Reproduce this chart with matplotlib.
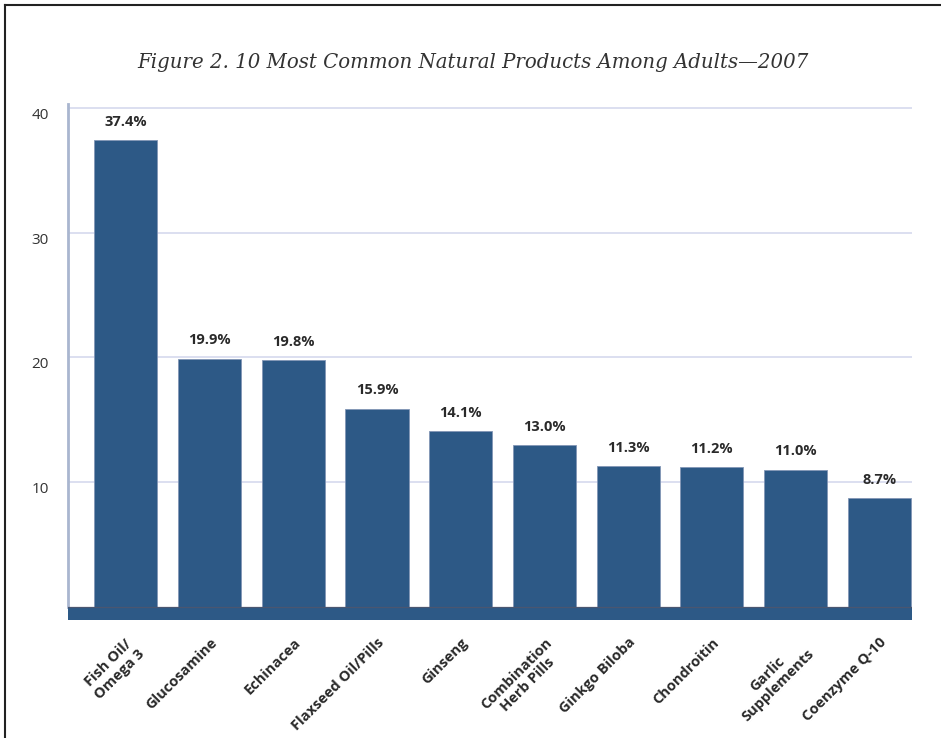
import matplotlib
matplotlib.use("Agg")
import matplotlib.pyplot as plt
from matplotlib.lines import Line2D

categories = ["Fish Oil/\nOmega 3", "Glucosamine", "Echinacea", "Flaxseed Oil/Pills",
              "Ginseng", "Combination\nHerb Pills", "Ginkgo Biloba", "Chondroitin",
              "Garlic\nSupplements", "Coenzyme Q-10"]
values = [37.4, 19.9, 19.8, 15.9, 14.1, 13.0, 11.3, 11.2, 11.0, 8.7]
value_labels = ["37.4%", "19.9%", "19.8%", "15.9%", "14.1%", "13.0%", "11.3%", "11.2%", "11.0%", "8.7%"]
yticks = [10, 20, 30, 40]
title = "Figure 2. 10 Most Common Natural Products Among Adults\u20142007"

bar_color = "#2d5986"
text_color = "#2a2a2a"

fig = plt.figure(figsize=(9.41, 7.38), dpi=100)
ax = fig.add_axes([68/941, 1 - 620/738, (912 - 68)/941, (620 - 104)/738])

x = list(range(len(categories)))
ax.set_xlim(-0.69, 9.39)
ax.set_ylim(-1.04, 40.3)

for t in yticks:
    ax.axhline(t, color="#dcdff0", lw=1.4, zorder=0)

ax.bar(x, values, width=0.755, color=bar_color, edgecolor="#8296b6", linewidth=0.6, zorder=2)
ax.axhspan(-1.04, 0, color=bar_color, zorder=3, lw=0)
ax.axhline(0, color="#4a5670", lw=0.9, zorder=4)

for xi, v, lab in zip(x, values, value_labels):
    ax.text(xi, v + 0.9, lab, ha="center", va="bottom", fontsize=10.5, fontweight="bold",
            family="Open Sans", color=text_color)

for s in ["top", "right", "bottom"]:
    ax.spines[s].set_visible(False)
ax.spines["left"].set_color("#a9b6cf")
ax.spines["left"].set_linewidth(2)
ax.spines["left"].set_zorder(1)
ax.spines["left"].set_bounds(0, 40.3)

ax.set_yticks(yticks)
ax.set_yticklabels([str(t) for t in yticks], fontsize=11, family="Open Sans", color="#333333")
for lab in ax.get_yticklabels():
    lab.set_verticalalignment("top")
ax.tick_params(axis="y", length=0, pad=14)

ax.set_xticks(x)
ax.set_xticklabels(categories, rotation=45, ha="right", rotation_mode="anchor",
                   multialignment="center", fontsize=10.5, fontweight="bold",
                   family="Open Sans", color=text_color, linespacing=1.2)
ax.tick_params(axis="x", length=0, pad=11)

fig.text(473/941, 1 - 62/738, title, ha="center", va="center", fontsize=14.2,
         family="DejaVu Serif", style="italic", color="#333333")

# page frame lines (left and top)
fig.add_artist(Line2D([5/941, 5/941], [0, 1 - 5/738], transform=fig.transFigure, color="#222222", lw=1.5))
fig.add_artist(Line2D([5/941, 1], [1 - 5/738, 1 - 5/738], transform=fig.transFigure, color="#222222", lw=1.5))

fig.savefig("out.png", dpi=100)
